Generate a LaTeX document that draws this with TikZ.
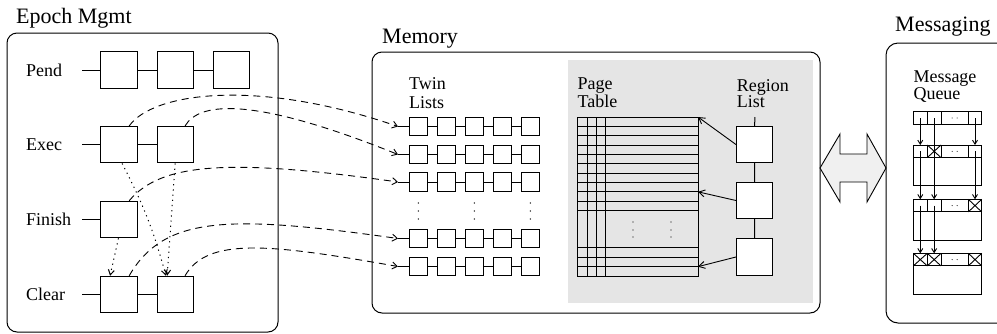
\documentclass[tikz,border=0pt]{standalone}
\usepackage{fontspec}
\setmainfont{Liberation Serif}
\usetikzlibrary{arrows.meta}
\tikzset{
  frame/.style={draw, line width=1pt, rounded corners=10pt},
  title/.style={anchor=base west, inner sep=0pt, font=\fontsize{22}{24}\selectfont},
  rowlabel/.style={anchor=base west, inner sep=0pt, font=\fontsize{18}{20}\selectfont},
  sublabel/.style={anchor=north west, inner sep=0pt, align=left},
  slot/.style={draw, fill=white, line width=1pt, minimum size=36.5pt, inner sep=0pt},
  twin/.style={draw, fill=white, line width=1pt, minimum size=18.1pt, inner sep=0pt},
  region/.style={draw, fill=white, line width=1pt, minimum size=36.1pt, inner sep=0pt},
  link/.style={line width=1pt},
  ptr/.style={line width=0.9pt, dash pattern=on 7pt off 5pt,
              -{Straight Barb[length=5pt,width=7pt]}},
  moveptr/.style={line width=1pt, dash pattern=on 1.2pt off 4pt,
                  -{Straight Barb[length=5pt,width=6pt]}},
  solidptr/.style={line width=0.9pt, -{Straight Barb[length=6pt,width=7pt]}},
  qcell/.style={draw, line width=0.9pt, inner sep=0pt, outer sep=0pt, anchor=north west},
  qptr/.style={line width=0.9pt, -{Straight Barb[length=4pt,width=5pt]}},
  gridline/.style={line width=0.9pt},
}
\begin{document}
\begin{tikzpicture}[x=1pt,y=-1pt]
\useasboundingbox (0,0) rectangle (997,333);
\clip (0,0) rectangle (997,333);

% ---------- Epoch management ----------
\draw[frame] (7,33) rectangle (278,332);
\node[title] (tEpoch) at (16,23) {Epoch Mgmt};

\node[rowlabel] (lPend)   at (26,76)    {Pend};
\node[rowlabel] (lExec)   at (26,150.7) {Exec};
\node[rowlabel] (lFinish) at (26,225.5) {Finish};
\node[rowlabel] (lClear)  at (26,300.5) {Clear};

\coordinate (pa) at (82,70);
\coordinate (ea) at (82,144.7);
\coordinate (fa) at (82,219.5);
\coordinate (ca) at (82,294.5);

\node[slot] (p1) at (118.8,70) {};
\node[slot] (p2) at (175.5,70) {};
\node[slot] (p3) at (231.3,70) {};
\node[slot] (e1) at (118.8,144.7) {};
\node[slot] (e2) at (175.5,144.7) {};
\node[slot] (f1) at (118.8,219.5) {};
\node[slot] (c1) at (118.8,294.5) {};
\node[slot] (c2) at (175.5,294.5) {};

\draw[link] (pa) -- (p1) -- (p2) -- (p3);
\draw[link] (ea) -- (e1) -- (e2);
\draw[link] (fa) -- (f1);
\draw[link] (ca) -- (c1) -- (c2);

% epochs moving towards the clear list
\draw[moveptr] (e1.-80) to[bend left=6] (c2.117);
\draw[moveptr] (e2.-91) -- (c2.114);
\draw[moveptr] (f1.-91) -- (c1.115);

% ---------- Memory ----------
\draw[frame] (372,52) rectangle (820,313);
\node[title] (tMemory) at (382,43) {Memory};
\fill[black!10] (568,60) rectangle (813,303);

% twin lists
\node[sublabel, font=\fontsize{18}{19}\selectfont] (lTwin) at (409,77.2) {Twin\\Lists};
\coordinate (h1) at (398,126.5);
\coordinate (h2) at (398,154.5);
\coordinate (h3) at (398,182);
\coordinate (h4) at (398,238.5);
\coordinate (h5) at (398,266.5);
\foreach \r/\y in {1/126.5,2/154.5,3/182,4/238.5,5/266.5}{
  \foreach \c in {1,...,5}{
    \node[twin] (t\r\c) at ({418.4+28*(\c-1)},\y) {};
  }
  \draw[link] (h\r) -- (t\r1) -- (t\r2) -- (t\r3) -- (t\r4) -- (t\r5);
}
\foreach \x in {418.4,474.4,530.4}{
  \foreach \y in {203,211,219}{
    \fill (\x,\y) circle[radius=0.7pt];
  }
}

% epoch entries pointing at their twin lists
\draw[ptr] (e1.61) .. controls +(23,-33) and +(-142,-49) .. (h1);
\draw[ptr] (e2.63) .. controls +(15,-26) and +(-139,-56) .. (h2);
\draw[ptr] (f1.61) .. controls +(32,-38.3) and +(-168.3,-23.7) .. (h3);
\draw[ptr] (c1.61) .. controls +(35,-60.6) and +(-168.3,-23.7) .. (h4);
\draw[ptr] (c2.63) .. controls +(22.5,-39) and +(-128,-22.6) .. (h5);

% page table
\node[sublabel, font=\fontsize{18}{17.3}\selectfont] (lPage) at (577.3,78) {Page\\Table};
\node[draw, line width=0.9pt, inner sep=0pt, outer sep=0pt, anchor=north west,
      minimum width=121pt, minimum height=159pt] (pt) at (577,117) {};
\foreach \k in {1,...,10,14,15,16}{
  \draw[gridline] (577,{117+\k*9.353}) -- (698,{117+\k*9.353});
}
\foreach \x in {587,596,605}{
  \draw[gridline] (\x,117) -- (\x,276);
}
\foreach \x in {633,671}{
  \foreach \y in {222,230,237}{
    \fill (\x,\y) circle[radius=0.7pt];
  }
}
\coordinate (pt8)  at (698,{117+8*9.353});
\coordinate (pt16) at (698,{117+16*9.353});

% region list
\node[sublabel, font=\fontsize{18}{16.5}\selectfont] (lRegion) at (736.7,79.3) {Region\\List};
\coordinate (rtop) at (754.8,117);
\node[region] (r1) at (754.5,144.5) {};
\node[region] (r2) at (754.5,200.5) {};
\node[region] (r3) at (754.5,257) {};
\draw[link] (rtop) -- (r1) -- (r2) -- (r3);
\draw[solidptr] (r1.west) -- (pt.north east);
\draw[solidptr] (r2.west) -- (pt8);
\draw[solidptr] (r3.west) -- (pt16);

% ---------- exchange between memory and messaging ----------
\draw[line width=0.9pt, fill=black!6]
  (820,168) -- (840,134) -- (840,154) -- (867,154) -- (867,134) -- (886,168)
  -- (867,202) -- (867,182) -- (840,182) -- (840,202) -- cycle;

% ---------- Messaging ----------
\draw[frame, rounded corners=12pt] (886,43) rectangle (1012,323);
\node[title] (tMessaging) at (895,31) {Messaging};
\node[sublabel, font=\fontsize{18}{15.5}\selectfont] (lQueue) at (913.3,70.8) {Message\\Queue};

\foreach \b/\y/\H in {0/111.7/12.6, 1/145/40.7, 2/199.3/40.7, 3/253.3/41}{
  \node[qcell, minimum width=68.4pt, minimum height=\H pt] (qb\b) at (913.3,\y) {};
  \node[qcell, minimum width=14pt,   minimum height=12.6pt] (q\b1) at (913.3,\y) {};
  \node[qcell, minimum width=13.7pt, minimum height=12.6pt] (q\b2) at (927.3,\y) {};
  \node[qcell, minimum width=27.3pt, minimum height=12.6pt] (q\b3) at (941,\y) {};
  \node[qcell, minimum width=13.4pt, minimum height=12.6pt] (q\b4) at (968.3,\y) {};
  \fill ([xshift=-2.5pt]q\b3.center) circle[radius=0.55pt]
        ([xshift=2.5pt]q\b3.center) circle[radius=0.55pt];
}
\foreach \q in {q12,q24,q31,q32,q34}{
  \draw[line width=0.9pt] (\q.north west) -- (\q.south east)
                          (\q.south west) -- (\q.north east);
}
\draw[qptr] (q01.center) -- (q11.north);
\draw[qptr] (q02.center) -- (q22.north);
\draw[qptr] (q04.center) -- (q14.north);
\draw[qptr] (q11.center) -- (q21.north);
\draw[qptr] (q14.center) -- (q24.north);
\draw[qptr] (q21.center) -- (q31.north);
\draw[qptr] (q22.center) -- (q32.north);
\end{tikzpicture}
\end{document}
